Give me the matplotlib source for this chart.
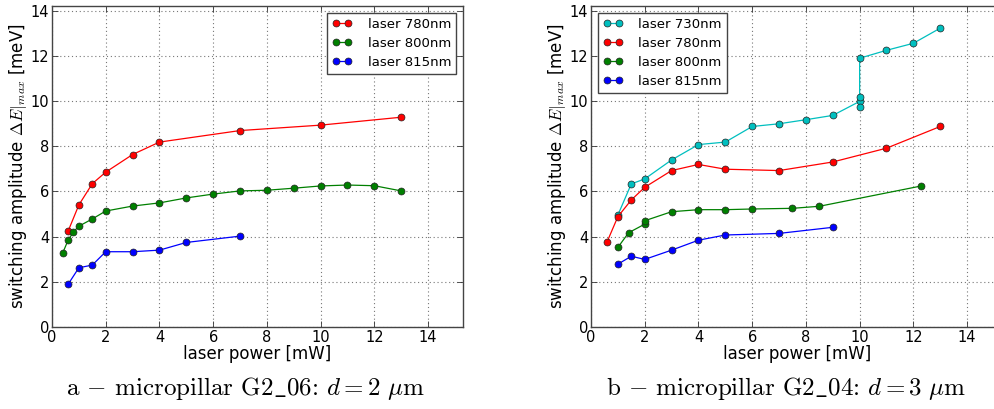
import matplotlib
matplotlib.use("Agg")
import matplotlib.pyplot as plt

plt.rcParams['mathtext.fontset'] = 'cm'
plt.rcParams['font.family'] = 'DejaVu Sans'

# panel a - micropillar G2_06
a_p780 = [0.6, 1, 1.5, 2, 3, 4, 7, 10, 13]
a_e780 = [4.24, 5.40, 6.34, 6.85, 7.63, 8.18, 8.69, 8.93, 9.28]
a_p800 = [0.4, 0.6, 0.8, 1, 1.5, 2, 3, 4, 5, 6, 7, 8, 9, 10, 11, 12, 13]
a_e800 = [3.28, 3.84, 4.21, 4.46, 4.78, 5.13, 5.35, 5.49, 5.71, 5.88, 6.02,
          6.05, 6.14, 6.24, 6.28, 6.25, 6.02]
a_p815 = [0.6, 1, 1.5, 2, 3, 4, 5, 7]
a_e815 = [1.89, 2.62, 2.74, 3.33, 3.33, 3.40, 3.74, 4.02]

# panel b - micropillar G2_04
b_p730 = [1, 1.5, 2, 3, 4, 5, 6, 7, 8, 9, 10, 10, 10, 10, 11, 12, 13]
b_e730 = [4.95, 6.33, 6.55, 7.39, 8.07, 8.18, 8.87, 8.99, 9.17, 9.36,
          9.98, 9.74, 10.17, 11.89, 12.24, 12.55, 13.22]
b_p780 = [0.6, 1, 1.5, 2, 3, 4, 5, 7, 9, 11, 13]
b_e780 = [3.77, 4.88, 5.62, 6.18, 6.92, 7.19, 6.98, 6.92, 7.30, 7.91, 8.87]
b_p800 = [1, 1.4, 2, 2, 3, 4, 5, 6, 7.5, 8.5, 12.3]
b_e800 = [3.52, 4.17, 4.55, 4.70, 5.10, 5.19, 5.19, 5.22, 5.25, 5.34, 6.24]
b_p815 = [1, 1.5, 2, 3, 4, 5, 7, 9]
b_e815 = [2.78, 3.13, 2.99, 3.40, 3.84, 4.07, 4.14, 4.41]

xticks = [0, 2, 4, 6, 8, 10, 12, 14]
yticks = [0, 2, 4, 6, 8, 10, 12, 14]
captions = [r'a $-$ micropillar G2$\_$06: $d=2\ \mu$m',
            r'b $-$ micropillar G2$\_$04: $d=3\ \mu$m']

W, H = 995, 409
fig = plt.figure(figsize=(W / 100, H / 100), dpi=100)

ax1 = fig.add_axes([52 / W, (H - 327) / H, 411 / W, 321 / H])
# right panel runs past the edge of the figure, like the reference
ax2 = fig.add_axes([591 / W, (H - 327) / H, 450 / W, 321 / H])

panels = [
    (ax1, 15.3, [('r', a_p780, a_e780, 'laser 780nm'),
                 ('g', a_p800, a_e800, 'laser 800nm'),
                 ('b', a_p815, a_e815, 'laser 815nm')], 'upper right'),
    (ax2, 15.3 * 450 / 411, [('c', b_p730, b_e730, 'laser 730nm'),
                             ('r', b_p780, b_e780, 'laser 780nm'),
                             ('g', b_p800, b_e800, 'laser 800nm'),
                             ('b', b_p815, b_e815, 'laser 815nm')], 'upper left'),
]

for ax, xmax, series, loc in panels:
    for col, x, y, lab in series:
        ax.plot(x, y, '-o', color=col, lw=0.9, ms=5, mec='#222222', mew=0.5,
                label=lab)
    ax.set_xlim(0, xmax)
    ax.set_ylim(0, 14.2)
    ax.set_xticks(xticks)
    ax.set_yticks(yticks)
    ax.grid(True, color='#777777', linestyle=(0, (1, 2.5)), linewidth=0.8)
    ax.tick_params(direction='in', length=4, width=0.6, labelsize=10.5,
                   pad=2, top=True, right=True, colors='#333333',
                   labelcolor='black')
    for sp in ax.spines.values():
        sp.set_color('#444444')
        sp.set_linewidth(1.0)
    ax.set_xlabel('laser power [mW]', fontsize=12, labelpad=1)
    ax.set_ylabel(r'switching amplitude $\Delta E|_{max}$ [meV]', fontsize=12,
                  labelpad=1)
    leg = ax.legend(loc=loc, fontsize=9.5, numpoints=2, handlelength=1.5,
                    handletextpad=1.2, borderaxespad=0.5, fancybox=False,
                    framealpha=1, labelspacing=0.45)
    leg.get_frame().set_edgecolor('#444444')
    leg.get_frame().set_linewidth(1.0)

# right spine of panel b lies outside the picture
ax2.spines['right'].set_visible(False)
ax2.tick_params(right=False)
ax2.xaxis.set_label_coords((797 - 591) / 450, -0.055)
ax1.xaxis.set_label_coords(0.5, -0.055)

fig.text(245.5 / W, (H - 389) / H, captions[0], fontsize=18, family='cmr10',
         ha='center', va='center')
fig.text(786 / W, (H - 389) / H, captions[1], fontsize=18, family='cmr10',
         ha='center', va='center')

fig.savefig('out.png', dpi=100)
